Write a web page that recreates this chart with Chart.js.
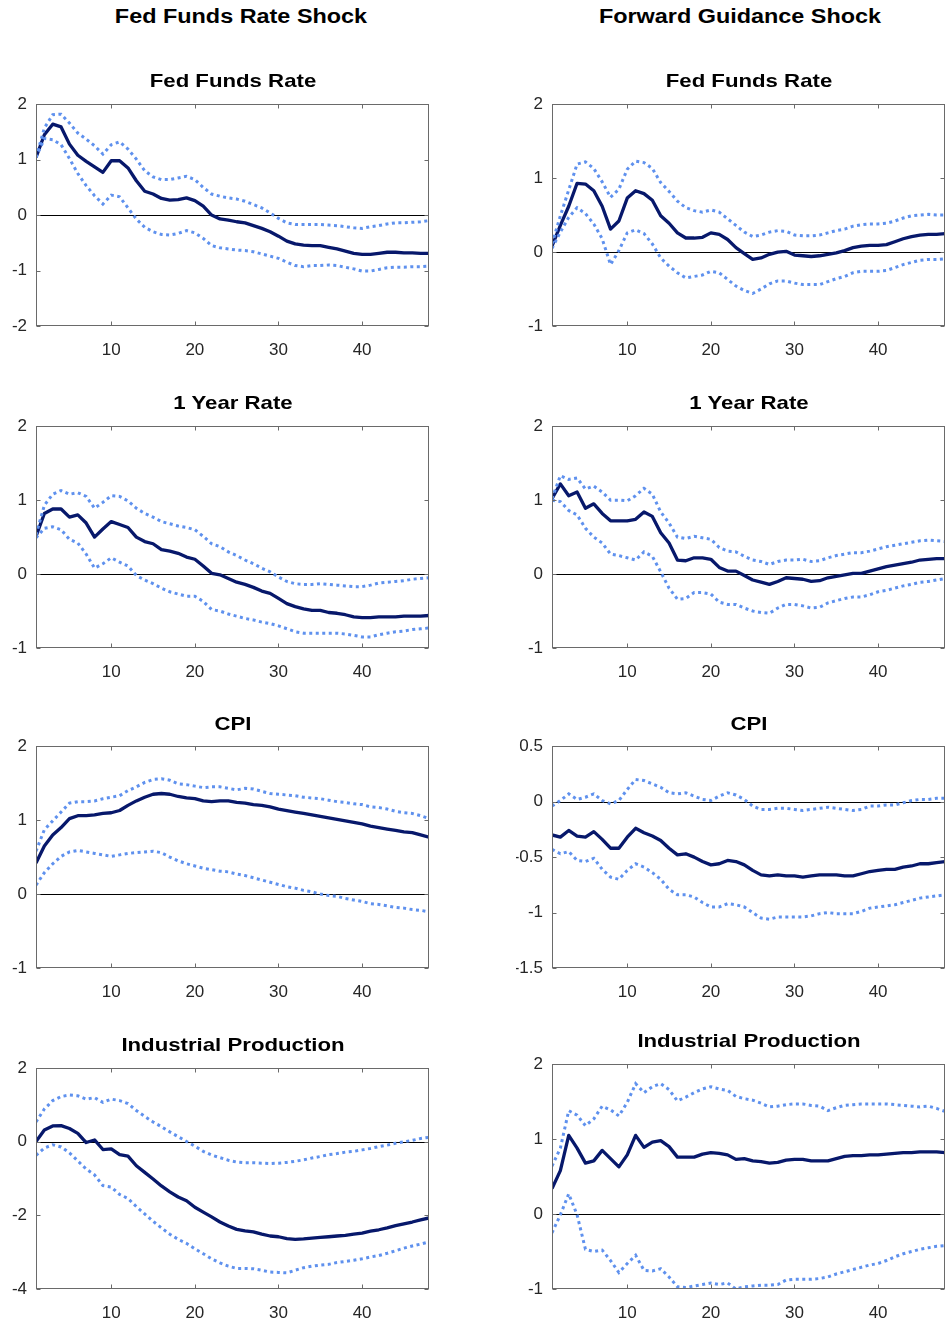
<!DOCTYPE html>
<html>
<head>
<meta charset="utf-8">
<script src="https://cdn.jsdelivr.net/npm/chart.js@4/dist/chart.umd.min.js"></script>
<style>
html,body{margin:0;padding:0;width:945px;height:1324px;overflow:hidden;background:#fff;}
canvas{position:absolute;}
.ttl{position:absolute;width:500px;text-align:center;white-space:nowrap;font-family:"Liberation Sans",Arial,Helvetica,sans-serif;font-weight:bold;color:#000;transform:scaleX(1.2);transform-origin:50% 50%;}
</style>
</head>
<body>
<script>
// ---------- DATA ----------
const horizon = [1,2,3,4,5,6,7,8,9,10,11,12,13,14,15,16,17,18,19,20,21,22,23,24,25,26,27,28,29,30,31,32,33,34,35,36,37,38,39,40,41,42,43,44,45,46,47,48];
const xTicks = [10,20,30,40];

const columnTitles = ['Fed Funds Rate Shock', 'Forward Guidance Shock'];
const panelTitles = ['Fed Funds Rate', '1 Year Rate', 'CPI', 'Industrial Production'];

const yTicksFFR = [-2,-1,0,1,2];
const yTicksStd = [-1,0,1,2];
const yTicksCPIfg = [-1.5,-1,-0.5,0,0.5];
const yTicksIP = [-4,-2,0,2];

// Fed Funds Rate Shock
const ffrShock_ffr_mid = [1.04,1.45,1.64,1.59,1.28,1.08,0.97,0.87,0.77,0.98,0.98,0.85,0.62,0.43,0.38,0.30,0.27,0.28,0.31,0.26,0.16,0.00,-0.07,-0.09,-0.12,-0.14,-0.19,-0.24,-0.30,-0.38,-0.47,-0.52,-0.54,-0.55,-0.55,-0.58,-0.61,-0.65,-0.69,-0.71,-0.71,-0.69,-0.67,-0.67,-0.68,-0.68,-0.69,-0.69];
const ffrShock_ffr_hi  = [1.04,1.57,1.81,1.82,1.66,1.48,1.37,1.25,1.10,1.27,1.32,1.19,1.01,0.80,0.69,0.64,0.64,0.67,0.70,0.64,0.50,0.38,0.34,0.31,0.29,0.25,0.19,0.13,0.04,-0.06,-0.14,-0.17,-0.17,-0.17,-0.17,-0.18,-0.19,-0.21,-0.23,-0.24,-0.21,-0.19,-0.16,-0.14,-0.14,-0.13,-0.12,-0.10];
const ffrShock_ffr_lo  = [1.04,1.38,1.36,1.27,1.02,0.75,0.53,0.35,0.20,0.36,0.33,0.13,-0.07,-0.22,-0.30,-0.35,-0.36,-0.33,-0.28,-0.32,-0.42,-0.55,-0.59,-0.61,-0.63,-0.64,-0.66,-0.70,-0.74,-0.78,-0.85,-0.91,-0.93,-0.91,-0.91,-0.90,-0.91,-0.94,-0.97,-1.01,-1.01,-0.98,-0.95,-0.94,-0.94,-0.93,-0.93,-0.92];

const ffrShock_1y_mid = [0.51,0.82,0.88,0.88,0.77,0.80,0.69,0.50,0.61,0.71,0.67,0.63,0.50,0.44,0.41,0.33,0.31,0.28,0.23,0.20,0.11,0.01,-0.01,-0.06,-0.11,-0.14,-0.18,-0.23,-0.26,-0.33,-0.40,-0.44,-0.47,-0.49,-0.49,-0.52,-0.53,-0.55,-0.58,-0.59,-0.59,-0.58,-0.58,-0.58,-0.57,-0.57,-0.57,-0.56];
const ffrShock_1y_hi  = [0.53,0.93,1.08,1.13,1.08,1.10,1.05,0.89,0.97,1.06,1.05,0.99,0.89,0.82,0.77,0.71,0.68,0.65,0.63,0.60,0.51,0.41,0.37,0.30,0.25,0.19,0.14,0.08,0.03,-0.04,-0.10,-0.13,-0.14,-0.14,-0.13,-0.14,-0.15,-0.16,-0.17,-0.17,-0.15,-0.12,-0.11,-0.10,-0.09,-0.07,-0.06,-0.05];
const ffrShock_1y_lo  = [0.49,0.62,0.64,0.60,0.47,0.42,0.27,0.08,0.14,0.22,0.16,0.11,-0.02,-0.08,-0.13,-0.19,-0.24,-0.27,-0.30,-0.30,-0.37,-0.48,-0.50,-0.54,-0.57,-0.60,-0.62,-0.65,-0.67,-0.70,-0.74,-0.78,-0.80,-0.80,-0.80,-0.80,-0.80,-0.81,-0.83,-0.85,-0.85,-0.82,-0.80,-0.78,-0.77,-0.75,-0.74,-0.73];

const ffrShock_cpi_mid = [0.42,0.65,0.80,0.90,1.02,1.06,1.06,1.07,1.09,1.10,1.13,1.20,1.26,1.31,1.35,1.36,1.35,1.32,1.30,1.29,1.26,1.25,1.26,1.26,1.24,1.23,1.21,1.20,1.18,1.15,1.13,1.11,1.09,1.07,1.05,1.03,1.01,0.99,0.97,0.95,0.92,0.90,0.88,0.86,0.84,0.83,0.80,0.77];
const ffrShock_cpi_hi  = [0.58,0.87,0.99,1.11,1.23,1.25,1.25,1.26,1.29,1.31,1.33,1.40,1.45,1.51,1.55,1.56,1.54,1.49,1.48,1.46,1.44,1.45,1.45,1.43,1.41,1.43,1.42,1.39,1.36,1.35,1.34,1.33,1.31,1.30,1.29,1.27,1.25,1.24,1.22,1.21,1.18,1.17,1.15,1.12,1.10,1.09,1.06,1.02];
const ffrShock_cpi_lo  = [0.12,0.29,0.41,0.51,0.57,0.59,0.57,0.55,0.53,0.51,0.53,0.55,0.56,0.57,0.58,0.56,0.50,0.45,0.41,0.38,0.35,0.33,0.31,0.30,0.27,0.25,0.22,0.19,0.16,0.13,0.10,0.08,0.05,0.03,0.00,-0.02,-0.03,-0.06,-0.08,-0.10,-0.13,-0.14,-0.16,-0.18,-0.19,-0.21,-0.22,-0.24];

const ffrShock_ip_mid = [0.01,0.32,0.43,0.44,0.36,0.23,-0.02,0.05,-0.21,-0.19,-0.35,-0.39,-0.65,-0.83,-1.01,-1.20,-1.36,-1.50,-1.60,-1.78,-1.91,-2.04,-2.18,-2.29,-2.38,-2.42,-2.45,-2.51,-2.56,-2.58,-2.63,-2.65,-2.64,-2.62,-2.60,-2.58,-2.56,-2.54,-2.51,-2.48,-2.43,-2.39,-2.34,-2.28,-2.23,-2.18,-2.12,-2.07];
const ffrShock_ip_hi  = [0.54,0.89,1.12,1.23,1.27,1.25,1.16,1.20,1.07,1.16,1.12,1.04,0.85,0.69,0.54,0.41,0.27,0.14,0.01,-0.12,-0.26,-0.36,-0.43,-0.50,-0.55,-0.57,-0.57,-0.58,-0.59,-0.58,-0.56,-0.53,-0.49,-0.44,-0.40,-0.35,-0.32,-0.28,-0.26,-0.22,-0.18,-0.13,-0.09,-0.04,0.00,0.04,0.09,0.12];
const ffrShock_ip_lo  = [-0.37,-0.17,-0.08,-0.14,-0.30,-0.52,-0.74,-0.90,-1.19,-1.23,-1.43,-1.54,-1.76,-1.96,-2.16,-2.34,-2.51,-2.65,-2.76,-2.91,-3.04,-3.18,-3.29,-3.38,-3.44,-3.44,-3.45,-3.49,-3.54,-3.55,-3.56,-3.49,-3.42,-3.38,-3.35,-3.33,-3.28,-3.25,-3.22,-3.18,-3.13,-3.09,-3.03,-2.96,-2.89,-2.83,-2.78,-2.72];

// Forward Guidance Shock
const fgShock_ffr_mid = [0.08,0.36,0.62,0.93,0.92,0.83,0.62,0.31,0.42,0.73,0.83,0.79,0.70,0.49,0.39,0.26,0.19,0.19,0.20,0.26,0.24,0.17,0.06,-0.02,-0.10,-0.08,-0.03,0.00,0.01,-0.04,-0.05,-0.06,-0.05,-0.03,-0.01,0.02,0.06,0.08,0.09,0.09,0.10,0.14,0.18,0.21,0.23,0.24,0.24,0.25];
const fgShock_ffr_hi  = [0.11,0.49,0.84,1.19,1.22,1.13,0.95,0.74,0.85,1.12,1.23,1.21,1.13,0.94,0.82,0.69,0.60,0.56,0.54,0.57,0.54,0.45,0.36,0.27,0.21,0.23,0.27,0.29,0.28,0.23,0.22,0.22,0.23,0.26,0.29,0.31,0.35,0.37,0.38,0.38,0.39,0.42,0.46,0.49,0.50,0.51,0.50,0.50];
const fgShock_ffr_lo  = [0.05,0.27,0.47,0.60,0.52,0.38,0.18,-0.17,0.02,0.26,0.30,0.25,0.11,-0.08,-0.19,-0.28,-0.35,-0.33,-0.31,-0.26,-0.28,-0.37,-0.46,-0.52,-0.56,-0.50,-0.43,-0.39,-0.39,-0.42,-0.44,-0.44,-0.44,-0.40,-0.36,-0.33,-0.28,-0.26,-0.26,-0.26,-0.25,-0.21,-0.17,-0.14,-0.11,-0.10,-0.10,-0.09];

const fgShock_1y_mid = [1.02,1.22,1.06,1.11,0.89,0.95,0.82,0.72,0.72,0.72,0.74,0.84,0.78,0.56,0.42,0.19,0.18,0.22,0.22,0.20,0.09,0.04,0.04,-0.02,-0.08,-0.11,-0.14,-0.10,-0.05,-0.06,-0.07,-0.10,-0.09,-0.05,-0.03,-0.01,0.01,0.01,0.04,0.07,0.10,0.12,0.14,0.16,0.19,0.20,0.21,0.21];
const fgShock_1y_hi  = [1.02,1.33,1.28,1.30,1.15,1.19,1.11,1.00,1.00,0.99,1.06,1.16,1.08,0.84,0.69,0.50,0.48,0.51,0.49,0.47,0.36,0.31,0.30,0.24,0.19,0.17,0.13,0.17,0.19,0.19,0.20,0.17,0.18,0.22,0.25,0.27,0.29,0.29,0.31,0.34,0.37,0.39,0.41,0.43,0.45,0.46,0.45,0.44];
const fgShock_1y_lo  = [1.00,0.98,0.86,0.80,0.62,0.50,0.42,0.27,0.25,0.22,0.19,0.30,0.24,0.03,-0.19,-0.34,-0.33,-0.25,-0.25,-0.27,-0.38,-0.41,-0.41,-0.46,-0.50,-0.52,-0.53,-0.46,-0.41,-0.41,-0.43,-0.46,-0.45,-0.39,-0.36,-0.33,-0.31,-0.31,-0.28,-0.24,-0.22,-0.19,-0.16,-0.14,-0.11,-0.10,-0.08,-0.06];

const fgShock_cpi_mid = [-0.30,-0.32,-0.26,-0.31,-0.32,-0.27,-0.34,-0.42,-0.42,-0.32,-0.24,-0.28,-0.31,-0.35,-0.42,-0.48,-0.47,-0.50,-0.54,-0.57,-0.56,-0.53,-0.54,-0.57,-0.62,-0.66,-0.67,-0.66,-0.67,-0.67,-0.68,-0.67,-0.66,-0.66,-0.66,-0.67,-0.67,-0.65,-0.63,-0.62,-0.61,-0.61,-0.59,-0.58,-0.56,-0.56,-0.55,-0.54];
const fgShock_cpi_hi  = [-0.04,0.01,0.07,0.02,0.04,0.07,0.01,-0.02,0.01,0.11,0.20,0.19,0.16,0.13,0.08,0.07,0.08,0.05,0.02,0.01,0.05,0.08,0.06,0.02,-0.04,-0.07,-0.07,-0.06,-0.06,-0.07,-0.08,-0.07,-0.06,-0.05,-0.06,-0.07,-0.08,-0.07,-0.04,-0.04,-0.03,-0.03,-0.01,0.01,0.02,0.02,0.03,0.03];
const fgShock_cpi_lo  = [-0.43,-0.47,-0.45,-0.53,-0.54,-0.51,-0.61,-0.68,-0.70,-0.62,-0.56,-0.59,-0.64,-0.70,-0.79,-0.84,-0.84,-0.86,-0.91,-0.95,-0.95,-0.92,-0.93,-0.95,-1.00,-1.05,-1.06,-1.04,-1.04,-1.04,-1.04,-1.03,-1.01,-1.00,-1.01,-1.01,-1.01,-0.99,-0.96,-0.95,-0.94,-0.93,-0.91,-0.89,-0.87,-0.86,-0.85,-0.84];

const fgShock_ip_mid = [0.34,0.58,1.05,0.88,0.68,0.71,0.85,0.74,0.63,0.79,1.05,0.89,0.96,0.98,0.90,0.76,0.76,0.76,0.80,0.82,0.81,0.79,0.73,0.74,0.71,0.70,0.68,0.69,0.72,0.73,0.73,0.71,0.71,0.71,0.74,0.77,0.78,0.78,0.79,0.79,0.80,0.81,0.82,0.82,0.83,0.83,0.83,0.82];
const fgShock_ip_hi  = [0.64,0.88,1.38,1.32,1.18,1.27,1.44,1.39,1.31,1.49,1.74,1.62,1.70,1.74,1.66,1.51,1.56,1.62,1.67,1.70,1.67,1.65,1.57,1.54,1.52,1.48,1.43,1.44,1.46,1.47,1.47,1.45,1.44,1.38,1.42,1.45,1.46,1.47,1.47,1.47,1.47,1.46,1.45,1.44,1.43,1.44,1.41,1.37];
const fgShock_ip_lo  = [-0.25,-0.01,0.27,-0.01,-0.47,-0.50,-0.48,-0.62,-0.78,-0.66,-0.55,-0.75,-0.76,-0.73,-0.84,-0.97,-0.98,-0.96,-0.94,-0.92,-0.94,-0.92,-1.00,-0.97,-0.96,-0.95,-0.95,-0.94,-0.88,-0.87,-0.87,-0.87,-0.86,-0.84,-0.80,-0.77,-0.74,-0.71,-0.68,-0.66,-0.62,-0.57,-0.53,-0.50,-0.47,-0.45,-0.43,-0.42];

// ---------- STYLE / LAYOUT ----------
const FONT = '"Liberation Sans", Arial, Helvetica, sans-serif';
const MID_COLOR = '#07186b';
const BAND_COLOR = '#5f91ee';
const AXIS_COLOR = '#6a6a6a';
const Y_AXIS_W = 36, PAD_TOP = 14, X_AXIS_H = 40, PAD_RIGHT = 10;

const boxPlugin = {
  id: 'matlabBox',
  beforeDatasetsDraw(chart) {
    const {ctx, chartArea: a, scales: {y}} = chart;
    const y0 = Math.round(y.getPixelForValue(0)) + 0.5;
    ctx.save();
    ctx.strokeStyle = '#000';
    ctx.lineWidth = 1;
    ctx.beginPath();
    ctx.moveTo(a.left, y0); ctx.lineTo(a.right, y0);
    ctx.stroke();
    ctx.restore();
  },
  afterDatasetsDraw(chart) {
    const {ctx, chartArea: a, scales: {x, y}} = chart;
    const L = Math.round(a.left) + 0.5, R = Math.round(a.right) - 0.5;
    const T = Math.round(a.top) + 0.5, B = Math.round(a.bottom) - 0.5;
    const tl = 4;
    ctx.save();
    ctx.strokeStyle = AXIS_COLOR;
    ctx.lineWidth = 1;
    ctx.strokeRect(L, T, R - L, B - T);
    ctx.beginPath();
    x.ticks.forEach(t => {
      const px = Math.round(x.getPixelForValue(t.value)) + 0.5;
      ctx.moveTo(px, B); ctx.lineTo(px, B - tl);
      ctx.moveTo(px, T); ctx.lineTo(px, T + tl);
    });
    y.ticks.forEach(t => {
      const py = Math.round(y.getPixelForValue(t.value)) + 0.5;
      ctx.moveTo(L, py); ctx.lineTo(L + tl, py);
      ctx.moveTo(R, py); ctx.lineTo(R - tl, py);
    });
    ctx.stroke();
    ctx.restore();
  }
};

function pts(arr) { return arr.map((v, i) => ({x: horizon[i], y: v})); }

function makePanel(p) {
  const cv = document.createElement('canvas');
  const w = Y_AXIS_W + (p.right - p.left) + PAD_RIGHT;
  const h = PAD_TOP + (p.bottom - p.top) + X_AXIS_H;
  cv.width = w; cv.height = h;
  cv.style.left = (p.left - Y_AXIS_W) + 'px';
  cv.style.top = (p.top - PAD_TOP) + 'px';
  cv.style.width = w + 'px';
  cv.style.height = h + 'px';
  document.body.appendChild(cv);
  const band = (data) => ({
    data: pts(data), borderColor: BAND_COLOR, borderWidth: 3, borderDash: [3, 3.5],
    borderCapStyle: 'butt', pointRadius: 0, tension: 0, fill: false, clip: 0
  });
  new Chart(cv, {
    type: 'line',
    data: {
      datasets: [
        band(p.lo),
        band(p.hi),
        {data: pts(p.mid), borderColor: MID_COLOR, borderWidth: 3.3, pointRadius: 0, tension: 0, fill: false, clip: 0, borderJoinStyle: 'round'}
      ]
    },
    options: {
      responsive: false, animation: false, devicePixelRatio: 1,
      layout: {padding: {top: PAD_TOP, right: PAD_RIGHT, left: 0, bottom: 0}},
      plugins: {legend: {display: false}, tooltip: {enabled: false}, title: {display: false}},
      events: [],
      scales: {
        x: {
          type: 'linear', min: 1, max: 48,
          afterBuildTicks: s => { s.ticks = xTicks.map(v => ({value: v})); },
          afterFit: s => { s.height = X_AXIS_H; },
          grid: {display: false, drawTicks: false},
          border: {display: false},
          ticks: {color: '#262626', font: {family: FONT, size: 17}, padding: 14, maxRotation: 0, autoSkip: false, callback: v => String(v)}
        },
        y: {
          type: 'linear', min: p.yTicks[0], max: p.yTicks[p.yTicks.length - 1],
          afterBuildTicks: s => { s.ticks = p.yTicks.map(v => ({value: v})); },
          afterFit: s => { s.width = Y_AXIS_W; },
          grid: {display: false, drawTicks: false},
          border: {display: false},
          ticks: {color: '#262626', font: {family: FONT, size: 17}, padding: 9, autoSkip: false, callback: v => String(v)}
        }
      }
    },
    plugins: [boxPlugin]
  });
}

function addTitle(text, cx, baseline, size) {
  const d = document.createElement('div');
  d.className = 'ttl';
  d.textContent = text;
  d.style.fontSize = size + 'px';
  d.style.lineHeight = size + 'px';
  d.style.left = (cx - 250) + 'px';
  d.style.top = (baseline - 0.8465 * size) + 'px';
  document.body.appendChild(d);
}

const COL_L = {left: 36, right: 429};
const COL_R = {left: 552, right: 945};
const ROWS_L = [{top: 99, bottom: 326}, {top: 421, bottom: 648}, {top: 741, bottom: 968}, {top: 1063, bottom: 1289}];
const ROWS_R = [{top: 99, bottom: 326}, {top: 421, bottom: 648}, {top: 741, bottom: 968}, {top: 1059, bottom: 1289}];
const TITLE_BASE_L = [87.5, 410, 731, 1052];
const TITLE_BASE_R = [87.5, 410, 731, 1047.5];

const leftPanels = [
  {mid: ffrShock_ffr_mid, hi: ffrShock_ffr_hi, lo: ffrShock_ffr_lo, yTicks: yTicksFFR},
  {mid: ffrShock_1y_mid, hi: ffrShock_1y_hi, lo: ffrShock_1y_lo, yTicks: yTicksStd},
  {mid: ffrShock_cpi_mid, hi: ffrShock_cpi_hi, lo: ffrShock_cpi_lo, yTicks: yTicksStd},
  {mid: ffrShock_ip_mid, hi: ffrShock_ip_hi, lo: ffrShock_ip_lo, yTicks: yTicksIP}
];
const rightPanels = [
  {mid: fgShock_ffr_mid, hi: fgShock_ffr_hi, lo: fgShock_ffr_lo, yTicks: yTicksStd},
  {mid: fgShock_1y_mid, hi: fgShock_1y_hi, lo: fgShock_1y_lo, yTicks: yTicksStd},
  {mid: fgShock_cpi_mid, hi: fgShock_cpi_hi, lo: fgShock_cpi_lo, yTicks: yTicksCPIfg},
  {mid: fgShock_ip_mid, hi: fgShock_ip_hi, lo: fgShock_ip_lo, yTicks: yTicksStd}
];

leftPanels.forEach((d, i) => makePanel(Object.assign({}, d, COL_L, ROWS_L[i])));
rightPanels.forEach((d, i) => makePanel(Object.assign({}, d, COL_R, ROWS_R[i])));

addTitle(columnTitles[0], 241, 24, 19.5);
addTitle(columnTitles[1], 740, 24, 19.5);
panelTitles.forEach((t, i) => {
  addTitle(t, (COL_L.left + COL_L.right) / 2, TITLE_BASE_L[i], 18.5);
  addTitle(t, (COL_R.left + COL_R.right) / 2, TITLE_BASE_R[i], 18.5);
});
</script>
</body>
</html>
